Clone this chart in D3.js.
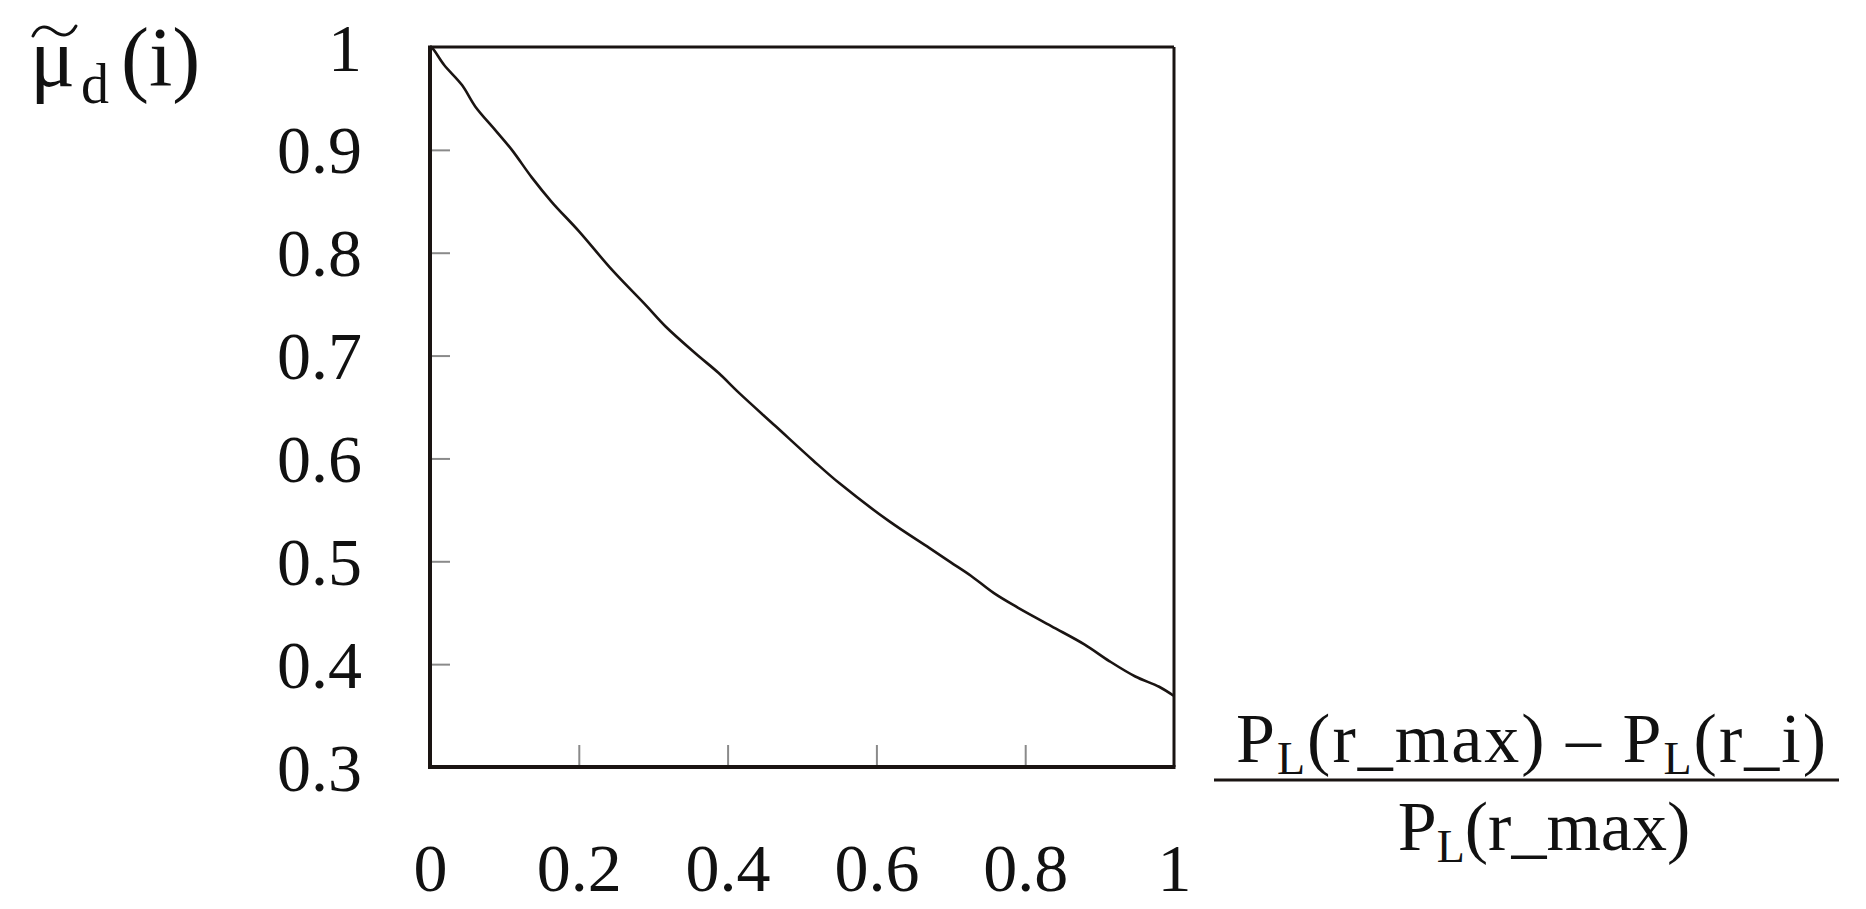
<!DOCTYPE html>
<html>
<head>
<meta charset="utf-8">
<script src="https://cdn.jsdelivr.net/npm/d3@7"></script>
<style>
  html, body { margin: 0; padding: 0; background: #ffffff; }
  svg { display: block; }
  text { font-family: "Liberation Serif", "DejaVu Serif", serif; fill: #111; }
</style>
</head>
<body>
<svg id="chart" width="1866" height="909"></svg>
<script>
// ---- data ----
const xValues = [0, 0.003, 0.019, 0.043, 0.061, 0.088, 0.11, 0.137, 0.164, 0.2, 0.245, 0.29, 0.317,
                 0.357, 0.388, 0.415, 0.465, 0.515, 0.55, 0.617, 0.671, 0.70, 0.727, 0.758, 0.79,
                 0.835, 0.88, 0.913, 0.948, 0.98, 1.0];
const yValues = [1.0, 0.999, 0.9825, 0.963, 0.942, 0.919, 0.900, 0.873, 0.849, 0.821, 0.783, 0.749, 0.728,
                 0.702, 0.683, 0.664, 0.631, 0.598, 0.576, 0.539, 0.513, 0.499, 0.486, 0.469, 0.455,
                 0.437, 0.419, 0.403, 0.388, 0.378, 0.369];
const xTicks = [0, 0.2, 0.4, 0.6, 0.8, 1];
const yTicks = [0.3, 0.4, 0.5, 0.6, 0.7, 0.8, 0.9, 1];
const xDomain = [0, 1];
const yDomain = [0.3, 1];

// ---- layout ----
const pLeft = 430, pRight = 1174, pTop = 47, pBottom = 767;
const svg = d3.select("#chart");

const x = d3.scaleLinear().domain(xDomain).range([pLeft, pRight]);
const y = d3.scaleLinear().domain(yDomain).range([pBottom, pTop]);

const fmt = d => String(d);

// y axis (ticks inward)
const gy = svg.append("g").attr("transform", `translate(${pLeft},0)`)
  .call(d3.axisLeft(y).tickValues(yTicks).tickFormat(fmt).tickSize(-20).tickPadding(68));
gy.select(".domain").remove();
gy.selectAll(".tick line").attr("stroke", "#8a8a8a").attr("stroke-width", 2);
gy.selectAll(".tick text").attr("font-size", 68).attr("fill", "#111")
  .attr("font-family", "Liberation Serif").attr("dy", "0.34em");
gy.selectAll(".tick").filter(d => d === 1 || d === 0.3).select("line").remove();

// x axis (ticks inward)
const gx = svg.append("g").attr("transform", `translate(0,${pBottom})`)
  .call(d3.axisBottom(x).tickValues(xTicks).tickFormat(fmt).tickSize(-22).tickPadding(76));
gx.select(".domain").remove();
gx.selectAll(".tick line").attr("stroke", "#8a8a8a").attr("stroke-width", 2);
gx.selectAll(".tick text").attr("font-size", 68).attr("fill", "#111")
  .attr("font-family", "Liberation Serif").attr("dy", "0.71em");
gx.selectAll(".tick").filter(d => d === 0 || d === 1).select("line").remove();

// frame
svg.append("line").attr("x1", pLeft).attr("x2", pRight).attr("y1", pTop).attr("y2", pTop)
  .attr("stroke", "#1a1412").attr("stroke-width", 3);
svg.append("line").attr("x1", pRight).attr("x2", pRight).attr("y1", pTop).attr("y2", pBottom)
  .attr("stroke", "#1a1412").attr("stroke-width", 3);
svg.append("line").attr("x1", pLeft).attr("x2", pLeft).attr("y1", pTop - 1.5).attr("y2", pBottom + 2)
  .attr("stroke", "#1a1412").attr("stroke-width", 4);
svg.append("line").attr("x1", pLeft - 2).attr("x2", pRight + 1.5).attr("y1", pBottom).attr("y2", pBottom)
  .attr("stroke", "#1a1412").attr("stroke-width", 4);

// curve
const pts = xValues.map((v, i) => [v, yValues[i]]);
svg.append("path").datum(pts)
  .attr("fill", "none").attr("stroke", "#1a1412").attr("stroke-width", 2.6)
  .attr("stroke-linejoin", "round")
  .attr("d", d3.line().x(d => x(d[0])).y(d => y(d[1])).curve(d3.curveCatmullRom.alpha(0.5)));

// y title: mu with tilde accent, subscript d, (i)
const yt = svg.append("text").attr("x", 30).attr("y", 86).attr("font-size", 84);
yt.append("tspan").text("\u03BC");
yt.append("tspan").attr("font-size", 56).attr("dy", 17).attr("dx", 6).text("d");
yt.append("tspan").attr("dy", -17).attr("dx", 12).text("(i)");
// tilde accent drawn over the mu
svg.append("path")
  .attr("d", "M33,36 C38,25 46,25 54,31 C62,37 70,37 76,26")
  .attr("fill", "none").attr("stroke", "#111").attr("stroke-width", 3).attr("stroke-linecap", "round");

// x title: fraction
const num = svg.append("text").attr("x", 1532).attr("y", 762).attr("font-size", 70)
  .attr("text-anchor", "middle").attr("letter-spacing", 2);
num.append("tspan").text("P");
num.append("tspan").attr("font-size", 46).attr("dy", 12).text("L");
num.append("tspan").attr("dy", -12).text("(r_max) \u2013 P");
num.append("tspan").attr("font-size", 46).attr("dy", 12).text("L");
num.append("tspan").attr("dy", -12).text("(r_i)");

svg.append("line").attr("x1", 1214).attr("x2", 1839).attr("y1", 780).attr("y2", 780)
  .attr("stroke", "#1a1412").attr("stroke-width", 3);

const den = svg.append("text").attr("x", 1544).attr("y", 850).attr("font-size", 70).attr("text-anchor", "middle");
den.append("tspan").text("P");
den.append("tspan").attr("font-size", 46).attr("dy", 12).text("L");
den.append("tspan").attr("dy", -12).text("(r_max)");
</script>
</body>
</html>
